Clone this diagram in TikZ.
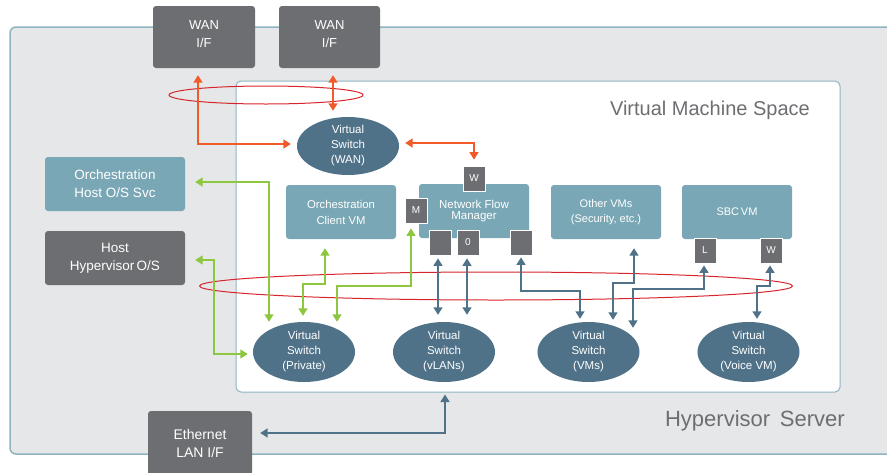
\documentclass[tikz,border=0pt]{standalone}
\usepackage{fontspec}
\setmainfont{Liberation Sans}
\usetikzlibrary{shapes.geometric,arrows.meta}
\definecolor{tealbox}{HTML}{7AA7B5}
\definecolor{darkbox}{HTML}{6D6E71}
\definecolor{swblue}{HTML}{4F7289}
\definecolor{outerfill}{HTML}{E6E7E8}
\definecolor{borderblue}{HTML}{8FB4C1}
\definecolor{ringred}{HTML}{D7262B}
\definecolor{orangec}{HTML}{F15A29}
\definecolor{greenc}{HTML}{8DC63F}
\definecolor{labelgray}{HTML}{6D6E71}
\begin{document}
\begin{tikzpicture}[x=1pt,y=-1pt,
  box/.style={rectangle, rounded corners=3pt, text=white, align=center, inner sep=0pt},
  tbox/.style={box, fill=tealbox},
  dbox/.style={box, fill=darkbox},
  sbox/.style={rectangle, fill=darkbox, draw=white, line width=0.8pt, minimum width=22pt, minimum height=25pt, inner sep=0pt, text=white, font=\fontsize{10}{12}\selectfont},
  vsw/.style={ellipse, fill=swblue, minimum width=102pt, minimum height=60pt, inner sep=0pt, text=white, align=center, font=\fontsize{11.5}{15}\selectfont},
  ring/.style={ellipse, draw=ringred, line width=1pt, inner sep=0pt},
  arr/.style={line width=1.5pt, {Triangle[width=9pt,length=7.5pt]}-{Triangle[width=9pt,length=7.5pt]}},
  oarr/.style={arr, draw=orangec},
  garr/.style={arr, draw=greenc},
  barr/.style={arr, draw=swblue}
]
\useasboundingbox (0,0) rectangle (887,472);
\clip (0,0) rectangle (887,472);

% containers
\node[draw=borderblue, fill=outerfill, line width=1.5pt, rounded corners=6pt, minimum width=890pt, minimum height=427pt, inner sep=0pt] (hyp) at (455,240.5) {};
\node[draw=borderblue, fill=white, line width=1pt, rounded corners=5pt, minimum width=604pt, minimum height=311pt, inner sep=0pt] (vmspace) at (538,236.5) {};
\node[anchor=east, text=labelgray, font=\fontsize{20}{24}\selectfont, inner sep=0pt] (vmlabel) at (810,110) {Virtual Machine Space};
\node[anchor=east, text=labelgray, font=\fontsize{22}{26}\selectfont, inner sep=0pt] (hyplabel) at (845,421) {Hypervisor\,\ Server};

% rings
\node[ring, minimum width=194pt, minimum height=18pt] (ring1) at (266,95) {};
\node[ring, minimum width=593pt, minimum height=28pt] (ring2) at (496,286) {};

% outside boxes
\node[dbox, minimum width=102pt, minimum height=62pt, font=\fontsize{13}{18}\selectfont] (wan1) at (204,37) {WAN\\I/F\\[-12pt]\mbox{}};
\node[dbox, minimum width=101pt, minimum height=62pt, font=\fontsize{13}{18}\selectfont] (wan2) at (329.5,37) {WAN\\I/F\\[-12pt]\mbox{}};
\node[tbox, minimum width=140pt, minimum height=54pt, font=\fontsize{13.5}{18}\selectfont] (ohost) at (115,184) {Orchestration\\Host O/S Svc};
\node[dbox, minimum width=140pt, minimum height=54pt, font=\fontsize{13.5}{18}\selectfont] (hhyp) at (115,258) {Host\\Hypervisor\,O/S};
\node[dbox, minimum width=104pt, minimum height=64pt, font=\fontsize{14}{18}\selectfont] (eth) at (200,443) {Ethernet\\LAN I/F};

% VMs
\node[tbox, minimum width=110pt, minimum height=54pt, font=\fontsize{11.3}{16}\selectfont] (ocvm) at (341,212) {Orchestration\\Client VM};
\node[tbox, minimum width=110pt, minimum height=54pt, font=\fontsize{11.5}{11.5}\selectfont] (nfm) at (474,211) {Network Flow\\Manager};
\node[tbox, minimum width=110pt, minimum height=54pt, font=\fontsize{11}{14.5}\selectfont] (ovm) at (606,212) {Other VMs\\(Security, etc.)};
\node[tbox, minimum width=110pt, minimum height=54pt, font=\fontsize{11}{14}\selectfont] (sbc) at (737,212) {SBC\,VM};

% small port boxes
\node[sbox] (wtop) at (474,178.5) {W};
\node[sbox] (mbox) at (416,210.5) {M};
\node[sbox] (nfa) at (440,242.5) {};
\node[sbox] (nf0) at (468,242.5) {0};
\node[sbox] (nfr) at (521,242.5) {};
\node[sbox] (lbox) at (705,250.5) {L};
\node[sbox] (wbox) at (771,250.5) {W};

% virtual switches
\node[vsw, minimum height=58pt] (swwan) at (348,146) {Virtual\\Switch\\(WAN)};
\node[vsw] (swpriv) at (304,352) {Virtual\\Switch\\(Private)};
\node[vsw] (swvlan) at (444,352) {Virtual\\Switch\\(vLANs)};
\node[vsw] (swvms) at (588.5,352) {Virtual\\Switch\\(VMs)};
\node[vsw] (swvoice) at (748.5,352) {Virtual\\Switch\\(Voice VM)};

% orange connectors
\draw[oarr, shorten <=7pt, shorten >=6pt] ([xshift=-6pt]wan1.south) |- ([yshift=2pt]swwan.west);
\draw[oarr, shorten <=7pt, shorten >=6pt] ([xshift=3.5pt]wan2.south) -- ([xshift=3.5pt]wan2.south |- swwan.north);
\draw[oarr, shorten <=6pt, shorten >=6pt] ([yshift=3pt]swwan.east) -| (wtop.north);

% green connectors
\draw[garr, shorten <=10pt] ([yshift=2pt]ohost.east) -| ([xshift=-35pt]swpriv.north);
\draw[garr, shorten <=10pt, shorten >=5pt] ([yshift=-2pt]hhyp.east) -| ([xshift=-39pt,yshift=-2pt]swpriv.west) -- ([yshift=-2pt]swpriv.west);
\draw[garr, shorten <=9pt, shorten >=6pt] ([xshift=-16pt]ocvm.south) |- (310,284) -| ([xshift=-1pt]swpriv.north);
\draw[garr, shorten <=5pt] ([xshift=-5pt]mbox.south) |- (360,286) -| ([xshift=33pt]swpriv.north);

% blue connectors
\draw[barr, shorten <=3pt, shorten >=7pt] ([xshift=-2pt]nfa.south) -- ([xshift=-2pt]nfa.south |- swvlan.north);
\draw[barr, shorten <=3pt, shorten >=7pt] ([xshift=-1pt]nf0.south) -- ([xshift=-1pt]nf0.south |- swvlan.north);
\draw[barr, shorten <=2pt, shorten >=3pt] (nfr.south) |- (550,291) -| ([xshift=-8.5pt]swvms.north);
\draw[barr, shorten <=9pt, shorten >=2pt] ([xshift=28pt]ovm.south) |- (620,283) -| ([xshift=24.5pt]swvms.north);
\draw[barr, shorten <=2pt] ([xshift=-1pt]lbox.south) |- (660,289) -| ([xshift=44.5pt,yshift=-6pt]swvms.north);
\draw[barr, shorten <=2pt, shorten >=3pt] ([xshift=-1pt]wbox.south) |- (765,286) -| ([xshift=8.5pt]swvoice.north);
\draw[barr, shorten <=8pt, shorten >=2pt] ([yshift=10pt]eth.east) -| ([xshift=-93pt]vmspace.south);
\end{tikzpicture}
\end{document}
